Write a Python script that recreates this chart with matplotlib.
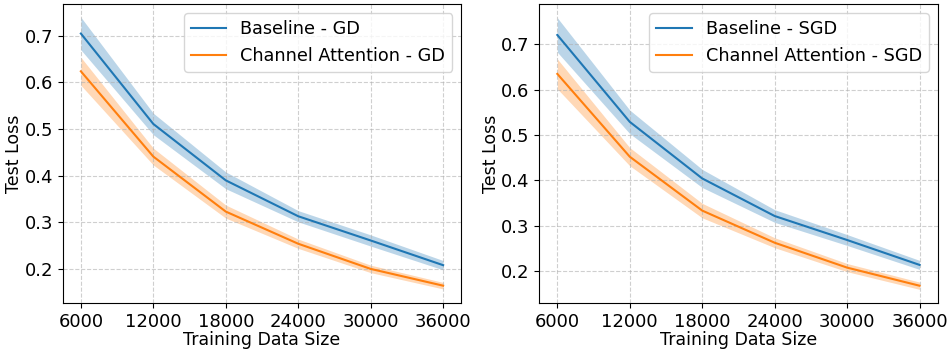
import matplotlib
matplotlib.use("Agg")
import matplotlib.pyplot as plt
import numpy as np

sizes = [6000, 12000, 18000, 24000, 30000, 36000]

# GD panel
base_gd = [0.705, 0.511, 0.390, 0.313, 0.261, 0.208]
base_gd_std = [0.035, 0.023, 0.018, 0.012, 0.012, 0.010]
ca_gd = [0.624, 0.441, 0.323, 0.254, 0.200, 0.164]
ca_gd_std = [0.030, 0.018, 0.014, 0.010, 0.008, 0.007]

# SGD panel
base_sgd = [0.721, 0.529, 0.404, 0.321, 0.268, 0.213]
base_sgd_std = [0.038, 0.026, 0.020, 0.014, 0.012, 0.010]
ca_sgd = [0.635, 0.452, 0.333, 0.262, 0.207, 0.167]
ca_sgd_std = [0.033, 0.020, 0.016, 0.011, 0.009, 0.008]

panels = [
    ("GD", base_gd, base_gd_std, ca_gd, ca_gd_std, (0.127, 0.768)),
    ("SGD", base_sgd, base_sgd_std, ca_sgd, ca_sgd_std, (0.129, 0.789)),
]

fig = plt.figure(figsize=(9.51, 3.49), dpi=100)
lefts = [0.066, 0.567]
for i, (opt, b, bs, c, cs, ylim) in enumerate(panels):
    ax = fig.add_axes([lefts[i], 0.132, 0.419, 0.856])
    b = np.array(b); bs = np.array(bs)
    c = np.array(c); cs = np.array(cs)
    ax.plot(sizes, b, color="#1f77b4", label=f"Baseline - {opt}")
    ax.fill_between(sizes, b - bs, b + bs, color="#1f77b4", alpha=0.3, linewidth=0)
    ax.plot(sizes, c, color="#ff7f0e", label=f"Channel Attention - {opt}")
    ax.fill_between(sizes, c - cs, c + cs, color="#ff7f0e", alpha=0.3, linewidth=0)
    ax.set_xticks(sizes)
    ax.set_ylim(*ylim)
    ax.tick_params(labelsize=13)
    ax.set_xlabel("Training Data Size", fontsize=12.5, labelpad=0)
    ax.set_ylabel("Test Loss", fontsize=12.5, labelpad=1)
    ax.grid(True, linestyle="--", alpha=0.6)
    ax.legend(fontsize=12.7, loc="upper right")

fig.savefig("out.png", dpi=100)
